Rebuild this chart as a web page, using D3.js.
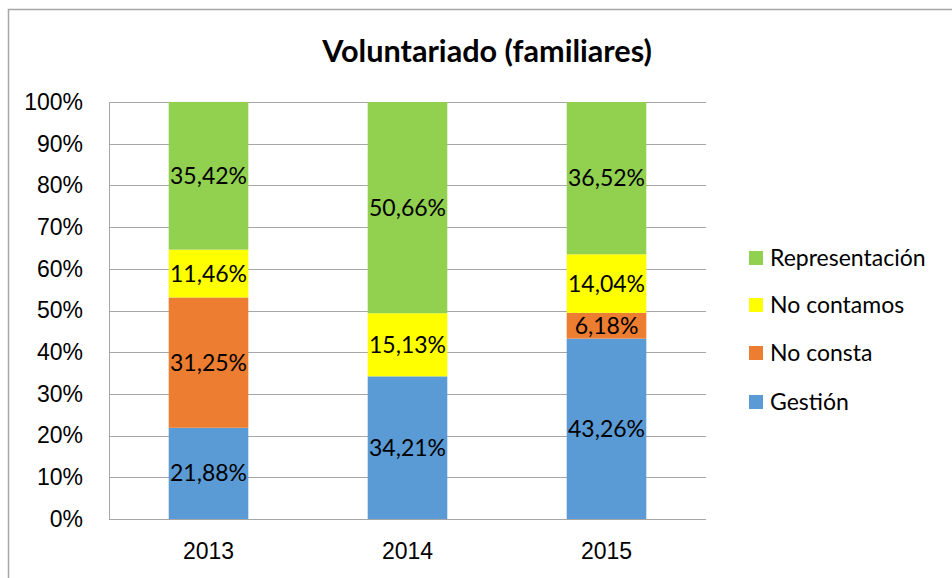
<!DOCTYPE html>
<html>
<head>
<meta charset="utf-8">
<script src="https://cdn.jsdelivr.net/npm/d3@7"></script>
<style>
  body { margin: 0; background: #fff; }
  svg { display: block; font-family: Lato, "Open Sans", sans-serif; }
  .grid line { stroke: #a6a6a6; stroke-width: 1; }
  .axis text { font-size: 23px; fill: #000; }
</style>
</head>
<body>
<div id="chart"></div>
<script>
// datos del gráfico
const years = ['2013', '2014', '2015'];
const series = ['Gestión', 'No consta', 'No contamos', 'Representación'];
const gestion = [21.88, 34.21, 43.26];
const noConsta = [31.25, 0, 6.18];
const noContamos = [11.46, 15.13, 14.04];
const representacion = [35.42, 50.66, 36.52];
const yTicks = [0, 10, 20, 30, 40, 50, 60, 70, 80, 90, 100];
const colors = ['#5b9bd5', '#ed7d31', '#ffff00', '#92d050'];

const W = 952, H = 578;
const m = { top: 102, right: 246, bottom: 59, left: 109 };
const w = W - m.left - m.right;
const h = H - m.top - m.bottom;

const svg = d3.select('#chart').append('svg')
    .attr('width', W).attr('height', H);

// marco exterior
svg.append('rect')
    .attr('x', 8.5).attr('y', 9.5)
    .attr('width', W + 10).attr('height', H + 10)
    .attr('fill', 'none').attr('stroke', '#a6a6a6').attr('stroke-width', 1.5);

// título
const title = svg.append('text')
    .attr('x', 487).attr('y', 62)
    .attr('text-anchor', 'middle')
    .attr('font-weight', 'bold')
    .attr('font-size', '26px')
    .text('Voluntariado (familiares)');
const tw = title.node().getComputedTextLength();
title.attr('font-size', (26 * 330 / tw) + 'px');

const g = svg.append('g').attr('transform', `translate(${m.left},${m.top})`);

const x = d3.scaleBand().domain(years).range([0, w]).paddingInner(0.6).paddingOuter(0.3);
const y = d3.scaleLinear().domain([0, 100]).range([h, 0]);

// cuadrícula
g.append('g').attr('class', 'grid')
    .selectAll('line').data(yTicks).join('line')
    .attr('x1', 0).attr('x2', w)
    .attr('y1', d => Math.round(y(d)) + 0.5).attr('y2', d => Math.round(y(d)) + 0.5);

// eje izquierdo
g.append('line')
    .attr('x1', 0.5).attr('x2', 0.5).attr('y1', 0).attr('y2', h)
    .attr('stroke', '#a6a6a6');

g.append('g').attr('class', 'axis')
    .call(d3.axisLeft(y).tickValues(yTicks).tickFormat(d => d + '%').tickSize(0).tickPadding(26))
    .call(a => a.select('.domain').remove());

g.append('g').attr('class', 'axis')
    .attr('transform', `translate(0,${h})`)
    .call(d3.axisBottom(x).tickSize(0).tickPadding(24))
    .call(a => a.select('.domain').remove());

// barras apiladas
const rows = years.map((yr, i) => ({
    year: yr,
    'Gestión': gestion[i],
    'No consta': noConsta[i],
    'No contamos': noContamos[i],
    'Representación': representacion[i]
}));
const stack = d3.stack().keys(series)(rows);

stack.forEach((layer, li) => {
    const lg = g.append('g');
    lg.selectAll('rect').data(layer).join('rect')
        .attr('x', d => x(d.data.year))
        .attr('width', x.bandwidth())
        .attr('y', d => y(d[1]))
        .attr('height', d => y(d[0]) - y(d[1]))
        .attr('fill', colors[li]);
    lg.selectAll('text').data(layer.filter(d => d[1] - d[0] > 0)).join('text')
        .attr('x', d => x(d.data.year) + x.bandwidth() / 2)
        .attr('y', d => y((d[0] + d[1]) / 2))
        .attr('dy', '0.35em')
        .attr('text-anchor', 'middle')
        .attr('font-size', '23px')
        .text(d => (d[1] - d[0]).toFixed(2).replace('.', ',') + '%');
});

// leyenda
const legendY = [402, 353, 305, 258];
const lgd = svg.append('g');
series.forEach((s, i) => {
    lgd.append('rect')
        .attr('x', 749).attr('y', legendY[i] - 7)
        .attr('width', 14).attr('height', 14)
        .attr('fill', colors[i]);
    lgd.append('text')
        .attr('x', 770).attr('y', legendY[i])
        .attr('dy', '0.35em')
        .attr('font-size', '23px')
        .text(s);
});
</script>
</body>
</html>
